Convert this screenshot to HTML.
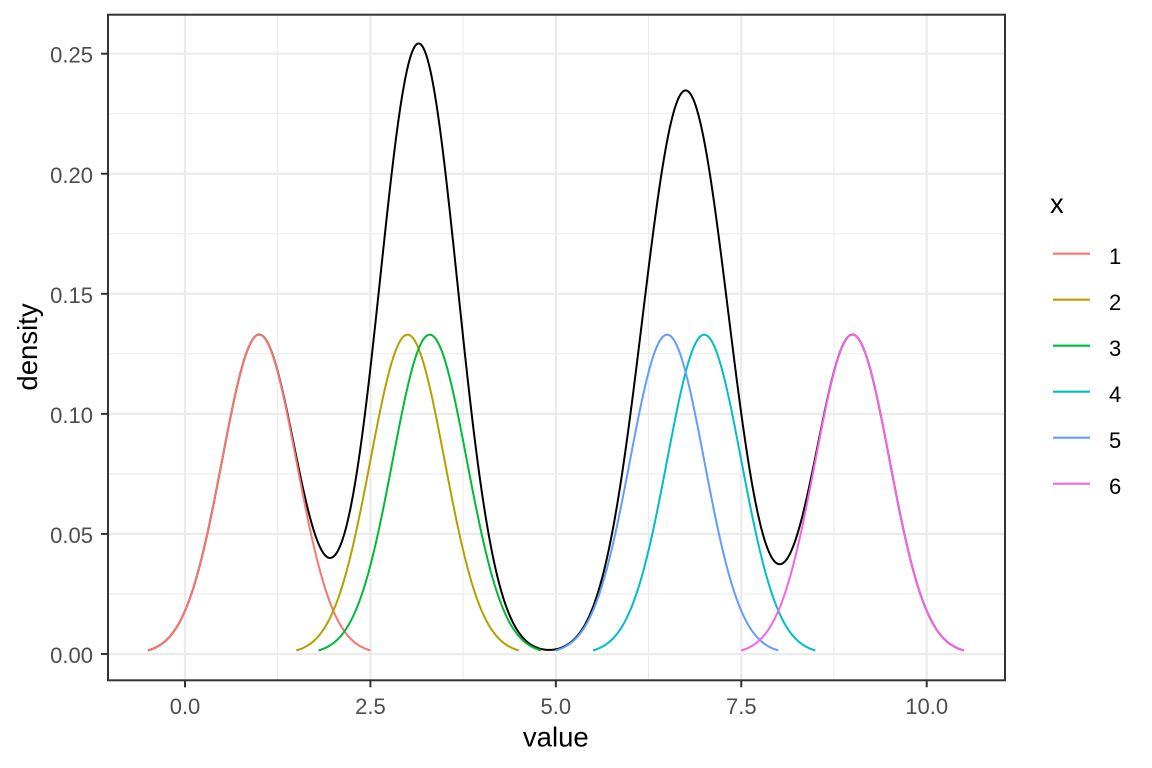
<!DOCTYPE html>
<html><head><meta charset="utf-8"><style>
html,body{margin:0;padding:0;background:#fff;}
svg{display:block;}
text{font-family:"Liberation Sans",Arial,sans-serif;}
</style></head><body>
<svg id="s" width="1152" height="768" viewBox="0 0 1152 768" xmlns="http://www.w3.org/2000/svg">
<rect x="0" y="0" width="1152" height="768" fill="#fff"/>
<g id="grid"></g>
<g id="curves" fill="none" stroke-linejoin="round"></g>
<rect x="108" y="14.7" width="897" height="665.6" fill="none" stroke="#333" stroke-width="2"/>
<g id="ticks" stroke="#333" stroke-width="2"></g>
<g id="labels" font-size="22" fill="#4D4D4D"></g>
<text x="555.8" y="746.5" font-size="27.5" text-anchor="middle" fill="#000">value</text>
<text transform="translate(37,347) rotate(-90)" font-size="27.5" text-anchor="middle" fill="#000">density</text>
<text x="1050" y="213" font-size="27.5" fill="#000">x</text>
<g id="legend"></g>
</svg>
<script>
(function(){
var NS="http://www.w3.org/2000/svg";
function el(parent,tag,attrs,txt){var e=document.createElementNS(NS,tag);for(var k in attrs)e.setAttribute(k,attrs[k]);if(txt!==undefined)e.textContent=txt;document.getElementById(parent).appendChild(e);return e;}
function px(x){return 185+x*74.17;}
function py(y){return 654-y*2401.2;}
var L=108,R=1005,T=14.7,B=680.3;
// minor grid
[1.25,3.75,6.25,8.75].forEach(function(v){el("grid","line",{x1:px(v),x2:px(v),y1:T,y2:B,stroke:"#EBEBEB","stroke-width":1.1});});
[0.025,0.075,0.125,0.175,0.225].forEach(function(v){el("grid","line",{x1:L,x2:R,y1:py(v),y2:py(v),stroke:"#EBEBEB","stroke-width":1.1});});
// major grid
var xs=[0,2.5,5,7.5,10],xl=["0.0","2.5","5.0","7.5","10.0"];
var ys=[0,0.05,0.1,0.15,0.2,0.25],yl=["0.00","0.05","0.10","0.15","0.20","0.25"];
xs.forEach(function(v,i){el("grid","line",{x1:px(v),x2:px(v),y1:T,y2:B,stroke:"#EBEBEB","stroke-width":2.2});
 el("ticks","line",{x1:px(v),x2:px(v),y1:B,y2:B+7});
 el("labels","text",{x:px(v),y:714,"text-anchor":"middle"},xl[i]);});
ys.forEach(function(v,i){el("grid","line",{x1:L,x2:R,y1:py(v),y2:py(v),stroke:"#EBEBEB","stroke-width":2.2});
 el("ticks","line",{x1:L-7,x2:L,y1:py(v),y2:py(v)});
 el("labels","text",{x:93,y:py(v)+9,"text-anchor":"end"},yl[i]);});
// curves
var mus=[1,3,3.3,7,6.5,9];
var cols=["#F8766D","#B79F00","#00BA38","#00BFC4","#619CFF","#F564E3"];
function comp(x,m){var z=(x-m)/0.5;return Math.exp(-z*z/2)/Math.sqrt(2*Math.PI)/0.5/6;}
var d="",n=1100;
for(var i=0;i<=n;i++){var x=-0.5+11*i/n;var s=0;mus.forEach(function(m){s+=comp(x,m);});d+=(i?"L":"M")+px(x).toFixed(2)+","+py(s).toFixed(2);}
el("curves","path",{d:d,stroke:"#000","stroke-width":2});
mus.forEach(function(m,k){var dd="";for(var i=0;i<=300;i++){var x=m-1.5+3*i/300;dd+=(i?"L":"M")+px(x).toFixed(2)+","+py(comp(x,m)).toFixed(2);}
 el("curves","path",{d:dd,stroke:cols[k],"stroke-width":2});});
// legend
cols.forEach(function(c,k){var y=253.7+46*k;
 el("legend","line",{x1:1053,x2:1090,y1:y,y2:y,stroke:c,"stroke-width":2.2});
 el("legend","text",{x:1109,y:y+10.5,"font-size":22,fill:"#000"},String(k+1));});
})();
</script>
</body></html>
